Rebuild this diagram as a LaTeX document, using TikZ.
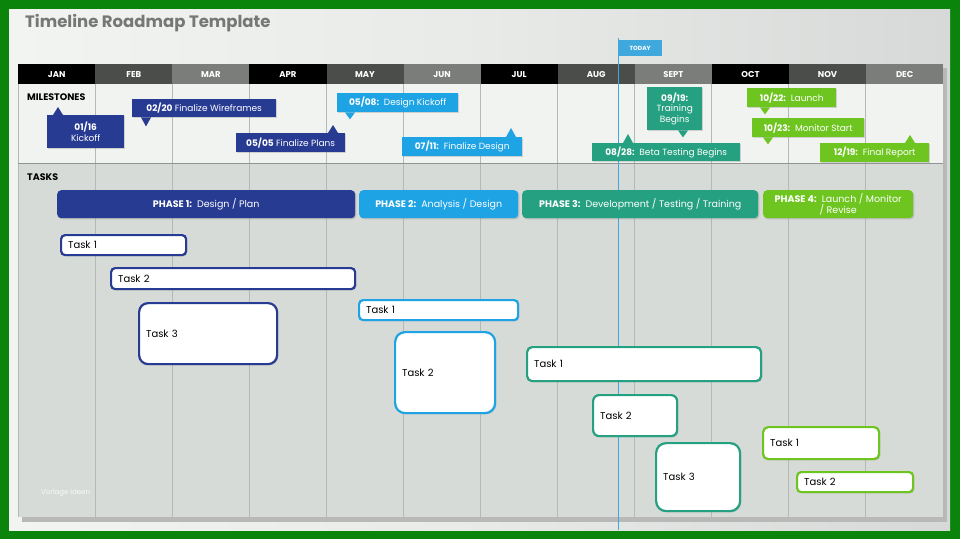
\documentclass[tikz,border=0pt]{standalone}
\usepackage{fontspec}
\setmainfont{Poppins}
\usetikzlibrary{positioning, shadows}
\definecolor{framegreen}{HTML}{0B840B}
\definecolor{paperl}{HTML}{F2F4F2}
\definecolor{paperr}{HTML}{D6D9D7}
\definecolor{milebg}{HTML}{F1F3F1}
\definecolor{taskbg}{HTML}{D7DBD8}
\definecolor{gridc}{HTML}{B5B9B6}
\definecolor{monthb}{HTML}{4B4D4B}
\definecolor{monthc}{HTML}{7B7D7B}
\definecolor{titlec}{HTML}{767876}
\definecolor{phaseA}{HTML}{283B93}
\definecolor{phaseB}{HTML}{1EA3E5}
\definecolor{phaseC}{HTML}{25A081}
\definecolor{phaseD}{HTML}{6EC520}
\definecolor{todayc}{HTML}{3FA9DE}

\begin{document}
\begin{tikzpicture}[
  x=1pt, y=-1pt,
  font=\fontsize{9}{10.5}\selectfont,
  soft/.style={drop shadow={opacity=0.3, shadow xshift=1.2pt, shadow yshift=-1.2pt}},
  month/.style={anchor=north west, minimum width=77.08pt, minimum height=20pt, inner sep=0pt,
                text=white, font=\fontsize{8.5}{9}\selectfont\bfseries},
  label/.style={anchor=west, inner sep=0pt, font=\fontsize{9.5}{10}\selectfont\bfseries},
  mile/.style={soft, anchor=north west, inner sep=0pt, text=white, align=center,
               font=\fontsize{9}{10.5}\selectfont},
  phasebar/.style={soft, anchor=north west, rounded corners=4pt, minimum height=28pt, inner sep=0pt,
                   text=white, align=center, font=\fontsize{9.5}{10.5}\selectfont},
  task/.style={soft, anchor=north west, fill=white, line width=2.2pt, rounded corners=4pt,
               inner xsep=7pt, inner ysep=0pt, align=left, font=\fontsize{10}{11}\selectfont},
  gridl/.style={gridc, line width=0.8pt},
]
\useasboundingbox (0,0) rectangle (960,539);
% cadre et fond
\fill[framegreen] (0,0) rectangle (960,539);
\shade[left color=paperl, right color=paperr, middle color=paperl!96!black] (9,9) rectangle (950,530);
\fill[black!28] (22,68) rectangle (947,522);
\fill[milebg] (18,84) rectangle (943,163);
\fill[taskbg] (18,163) rectangle (943,517);
\node[anchor=west, inner sep=0pt, text=titlec, font=\fontsize{16.5}{20}\selectfont\bfseries] (title) at (25,23)
  {Timeline Roadmap Template};
% les mois
\foreach \m/\c [count=\i] in {JAN/black, FEB/monthb, MAR/monthc, APR/black, MAY/monthb, JUN/monthc,
                              JUL/black, AUG/monthb, SEPT/monthc, OCT/black, NOV/monthb, DEC/monthc}
  \node[month, fill=\c] (m\i) at ({18+77.08*(\i-1)}, 64) {\m};
\foreach \i in {1,...,12}
  \draw[gridl] (m\i.south west) -- ++(0,433);
\draw[gridl] (m12.south east) -- ++(0,433);
\draw[gridc!80!black, line width=0.8pt] (18,163) -- (943,163);
\node[label] (miles) at (27,97) {MILESTONES};
\node[label] (tasks) at (27,177) {TASKS};
\node[anchor=west, inner sep=0pt, text=white, opacity=0.85, font=\fontsize{7}{8}\selectfont] (mark) at (41,493)
  {Vorlage Ideen};
% aujourd'hui
\node[anchor=north west, fill=todayc, text=white, minimum width=43pt, minimum height=16pt, inner sep=0pt,
      font=\fontsize{6}{7}\selectfont\bfseries] (today) at (618.5,40) {TODAY};
\coordinate (todaybot) at (618.5,530);
\draw[todayc, line width=1.5pt] ([yshift=2pt]today.north west) -- (todaybot);
% jalons
\node[mile, fill=phaseA, minimum width=77pt, minimum height=33pt] (ko) at (47,115) {\textbf{01/16}\\Kickoff};
\fill[phaseA] ([xshift=6pt]ko.north west) -- ++(5,-8) -- ++(5,8) -- cycle;
\node[mile, fill=phaseA, minimum width=144pt, minimum height=18pt] (wf) at (132,99) {\textbf{02/20} Finalize Wireframes};
\fill[phaseA] ([xshift=9pt]wf.south west) -- ++(5,9) -- ++(5,-9) -- cycle;
\node[mile, fill=phaseA, minimum width=109pt, minimum height=19pt] (fp) at (236,133) {\textbf{05/05} Finalize Plans};
\fill[phaseA] ([xshift=92pt]fp.north west) -- ++(5,-8) -- ++(5,8) -- cycle;
\node[mile, fill=phaseB, minimum width=121pt, minimum height=19pt] (dk) at (337,93) {\textbf{05/08:}\ \ Design Kickoff};
\fill[phaseB] ([xshift=8pt]dk.south west) -- ++(5,7) -- ++(5,-7) -- cycle;
\node[mile, fill=phaseB, minimum width=120pt, minimum height=19pt] (fd) at (402,137) {\textbf{07/11:}\ \ Finalize Design};
\fill[phaseB] ([xshift=104pt]fd.north west) -- ++(5,-9) -- ++(5,9) -- cycle;
\node[mile, fill=phaseC, minimum width=148pt, minimum height=18pt] (bt) at (592,143) {\textbf{08/28:}\ \ Beta Testing Begins};
\fill[phaseC] ([xshift=31pt]bt.north west) -- ++(5,-9) -- ++(5,9) -- cycle;
\node[mile, fill=phaseC, minimum width=55pt, minimum height=43pt] (tr) at (647,87) {\textbf{09/19:}\\Training\\Begins};
\fill[phaseC] ([xshift=31pt]tr.south west) -- ++(5,7) -- ++(5,-7) -- cycle;
\node[mile, fill=phaseD, minimum width=89pt, minimum height=19pt] (la) at (747,88) {\textbf{10/22:}\ \ Launch};
\fill[phaseD] ([xshift=13pt]la.south west) -- ++(5,7) -- ++(5,-7) -- cycle;
\node[mile, fill=phaseD, minimum width=112pt, minimum height=19pt] (ms) at (752,118) {\textbf{10/23:}\ \ Monitor Start};
\fill[phaseD] ([xshift=11pt]ms.south west) -- ++(5,7) -- ++(5,-7) -- cycle;
\node[mile, fill=phaseD, minimum width=109pt, minimum height=19pt] (fr) at (820,143) {\textbf{12/19:}\ \ Final Report};
\fill[phaseD] ([xshift=85pt]fr.north west) -- ++(5,-8) -- ++(5,8) -- cycle;
% phases
\node[phasebar, fill=phaseA, minimum width=298pt] (p1) at (57,190) {\textbf{PHASE 1:}\ \ Design / Plan};
\node[phasebar, fill=phaseB, minimum width=159pt] (p2) at (359,190) {\textbf{PHASE 2:}\ \ Analysis / Design};
\node[phasebar, fill=phaseC, minimum width=236pt] (p3) at (522,190) {\textbf{PHASE 3:}\ \ Development / Testing / Training};
\node[phasebar, fill=phaseD, minimum width=150pt, font=\fontsize{9.5}{10.5}\selectfont] (p4) at (763,190)
  {\textbf{PHASE 4:}\ \ Launch / Monitor\\/ Revise};
% taches
\node[task, draw=phaseA, text width=111pt, minimum height=20pt] (a1) at (60,234) {Task 1};
\node[task, draw=phaseA, text width=230pt, minimum height=21pt] (a2) at (110,267) {Task 2};
\node[task, draw=phaseA, text width=124pt, minimum height=61pt, rounded corners=9pt] (a3) at (138,302) {Task 3};
\node[task, draw=phaseB, text width=145pt, minimum height=20pt] (b1) at (358,299) {Task 1};
\node[task, draw=phaseB, text width=86pt, minimum height=81pt, rounded corners=10pt] (b2) at (394,331) {Task 2};
\node[task, draw=phaseC, text width=220pt, minimum height=34pt, rounded corners=5pt] (c1) at (526,346) {Task 1};
\node[task, draw=phaseC, text width=70pt, minimum height=41pt, rounded corners=6pt] (c2) at (592,394) {Task 2};
\node[task, draw=phaseC, text width=70pt, minimum height=68pt, rounded corners=10pt] (c3) at (655,442) {Task 3};
\node[task, draw=phaseD, text width=102pt, minimum height=32pt, rounded corners=5pt] (d1) at (762,426) {Task 1};
\node[task, draw=phaseD, text width=102pt, minimum height=20pt] (d2) at (796,471) {Task 2};
\end{tikzpicture}
\end{document}
